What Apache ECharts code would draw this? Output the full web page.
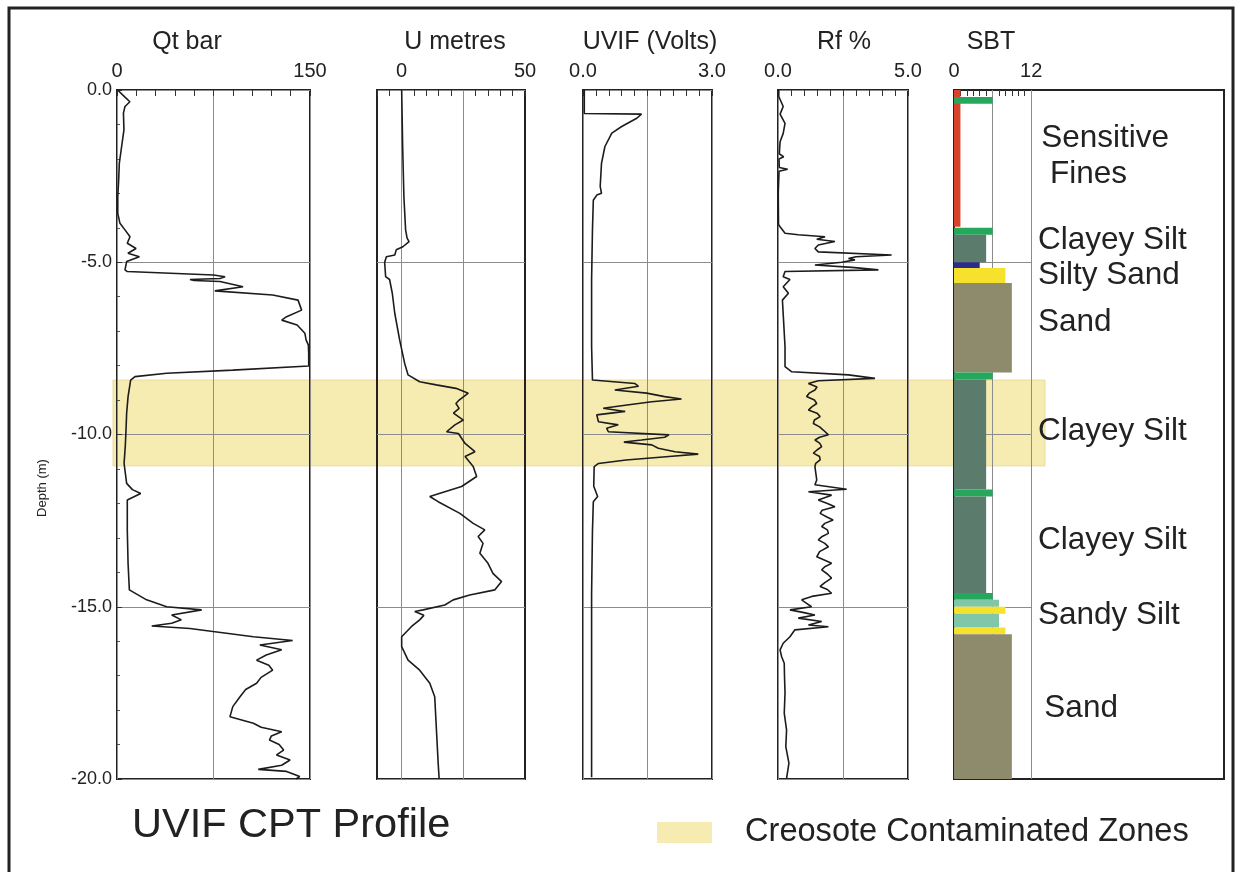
<!DOCTYPE html>
<html><head><meta charset="utf-8">
<script src="https://cdn.jsdelivr.net/npm/echarts@6/dist/echarts.min.js"></script>
<style>html,body{margin:0;padding:0;background:#fff}#c{width:1236px;height:872px}</style>
</head><body><div id="c"></div>
<script>
const FONT = '"Liberation Sans", Arial, sans-serif';
const panelTitles = ['Qt bar', 'U metres', 'UVIF (Volts)', 'Rf %', 'SBT'];

// [depth m, value]
const qtProfile = [[0.0,0.5],[0.05,1],[0.2,6],[0.34,10],[0.48,6.2],[0.67,5],[1.16,5.4],[1.64,3.6],[2.13,1.8],[2.61,1.3],[3.1,0.6],[3.58,0.6],[3.87,2.3],[4.06,6.2],[4.26,10.1],[4.45,8],[4.6,14.8],[4.74,8.5],[4.84,17.4],[4.98,7.5],[5.22,6.2],[5.27,8],[5.37,75],[5.42,84],[5.47,80],[5.5,56.7],[5.53,60],[5.56,80],[5.71,98],[5.83,76],[5.95,121],[6.1,140.7],[6.39,143.5],[6.58,131.8],[6.68,128],[6.82,140],[7.06,146],[7.26,147],[7.4,148.7],[7.65,149],[8.01,149],[8.13,90],[8.22,38.6],[8.32,14],[8.42,10.6],[8.9,8.6],[9.38,7.5],[9.87,7],[10.3,6.5],[10.84,5.5],[11.42,7.5],[11.6,12],[11.71,18.4],[11.9,8],[12.77,8],[13.74,8.6],[14.51,9.6],[14.8,23],[15.0,38.6],[15.09,65.8],[15.24,42.5],[15.38,50],[15.48,42.5],[15.56,27],[15.63,56.7],[15.72,74.6],[15.87,106],[15.98,136.5],[16.11,111],[16.25,128],[16.4,116],[16.55,108.5],[16.7,118],[16.84,121],[17.05,112],[17.22,108.5],[17.4,100],[17.61,95.6],[17.9,90],[18.19,87.8],[18.38,106],[18.5,112],[18.63,128],[18.75,120],[18.87,118.5],[19.0,126],[19.16,129.5],[19.3,124],[19.45,134.5],[19.6,128],[19.72,109.8],[19.78,131.8],[19.93,142],[20.0,139]];
const uProfile = [[0.0,0],[1.64,0.4],[3.1,0.9],[4.06,1.6],[4.3,2.2],[4.4,3.0],[4.55,0.5],[4.64,-2.2],[4.79,-2.8],[4.84,-6.2],[5.0,-6.9],[5.42,-6.5],[5.5,-4.9],[5.9,-3.8],[6.48,-2.8],[7.26,-0.8],[7.93,1.2],[8.27,2.6],[8.47,7.3],[8.56,14],[8.66,22],[8.8,27],[9.0,23.3],[9.1,22],[9.24,23.3],[9.38,21],[9.58,25],[9.72,21.6],[9.92,18.2],[9.97,23],[10.26,25.7],[10.5,29.7],[10.64,25.7],[10.93,29],[11.22,30.4],[11.51,24.3],[11.66,17.5],[11.8,11.4],[11.95,14.8],[12.29,23.6],[12.58,29],[12.77,33.7],[12.96,31],[13.16,33],[13.45,31.7],[13.74,35],[14.03,37],[14.27,40.5],[14.51,37.8],[14.66,27.6],[14.8,20.9],[14.95,17.5],[15.09,8.7],[15.14,5.3],[15.25,9],[15.38,7.3],[15.58,3.9],[15.87,0],[16.16,0],[16.55,2.6],[16.84,7.3],[17.22,11.4],[17.61,13.4],[18.58,14.1],[19.54,14.8],[20.0,15.2]];
const uvifProfile = [[0.0,0.03],[0.68,0.03],[0.7,1.36],[0.82,1.25],[1.06,0.9],[1.25,0.67],[1.64,0.51],[2.13,0.43],[2.8,0.4],[3.0,0.43],[3.05,0.32],[3.2,0.24],[4.06,0.22],[5.5,0.2],[7.45,0.2],[8.42,0.22],[8.52,1.21],[8.6,1.29],[8.71,0.74],[8.8,1.48],[8.9,1.9],[8.97,2.29],[9.05,1.6],[9.15,0.98],[9.24,0.47],[9.33,0.98],[9.43,0.32],[9.63,0.36],[9.72,0.82],[9.82,0.55],[9.92,0.59],[10.01,2.0],[10.08,1.9],[10.16,1.36],[10.22,0.95],[10.3,1.6],[10.4,1.75],[10.5,2.14],[10.57,2.68],[10.64,2.0],[10.74,1.0],[10.84,0.36],[10.93,0.26],[11.5,0.25],[11.8,0.34],[11.95,0.24],[12.8,0.22],[14.6,0.2],[17.0,0.2],[19.95,0.2]];
const rfProfile = [[0.0,0.03],[0.19,0.03],[0.48,0.2],[0.7,0.08],[0.97,0.27],[1.26,0.2],[1.5,0.08],[1.85,0.05],[1.94,0.22],[2.0,0.04],[2.25,0.05],[2.3,0.37],[2.36,0.04],[3.0,0.01],[3.9,0.02],[3.97,0.08],[4.16,0.27],[4.2,0.78],[4.26,1.81],[4.33,1.49],[4.4,2.19],[4.5,1.55],[4.6,1.42],[4.7,1.55],[4.79,4.37],[4.84,3.0],[4.89,2.71],[4.93,2.96],[5.0,2.45],[5.08,1.42],[5.15,2.84],[5.22,3.86],[5.27,0.27],[5.42,0.2],[5.5,0.46],[5.71,0.2],[5.9,0.4],[6.1,0.17],[6.5,0.2],[7.45,0.27],[8.03,0.27],[8.18,0.53],[8.27,2.71],[8.37,3.73],[8.44,1.55],[8.52,1.17],[8.62,1.5],[8.71,1.42],[8.8,1.2],[8.9,1.1],[9.0,1.4],[9.1,1.49],[9.2,1.3],[9.29,1.17],[9.38,1.5],[9.48,1.62],[9.58,1.4],[9.68,1.36],[9.78,1.6],[9.87,1.74],[10.01,1.94],[10.08,1.6],[10.16,1.42],[10.25,1.6],[10.35,1.68],[10.45,1.5],[10.54,1.36],[10.64,1.6],[10.74,1.62],[10.84,1.45],[10.93,1.42],[11.1,1.45],[11.32,1.49],[11.46,1.42],[11.59,2.64],[11.66,1.17],[11.76,2.06],[11.9,1.55],[12.0,1.9],[12.1,2.19],[12.2,1.7],[12.29,1.62],[12.4,1.9],[12.48,2.12],[12.58,1.8],[12.67,1.68],[12.77,1.9],[12.87,1.94],[12.96,1.7],[13.06,1.55],[13.16,1.8],[13.26,1.94],[13.4,1.6],[13.55,1.49],[13.65,1.8],[13.74,2.06],[13.84,1.8],[13.93,1.68],[14.05,1.9],[14.17,2.06],[14.3,1.8],[14.41,1.62],[14.5,1.9],[14.61,2.06],[14.7,1.3],[14.8,0.91],[14.9,1.1],[15.0,1.29],[15.09,0.46],[15.17,1.0],[15.24,1.42],[15.33,0.78],[15.43,1.68],[15.53,1.17],[15.58,1.94],[15.67,0.65],[15.87,0.46],[16.06,0.2],[16.25,0.08],[16.45,0.14],[16.64,0.24],[17.0,0.25],[17.51,0.27],[18.09,0.24],[18.58,0.33],[19.06,0.3],[19.54,0.42],[19.98,0.33]];

// SBT layers: top depth, bottom depth, zone number
const sbtTop    = [0.0, 0.2, 4.0, 4.2, 5.0, 5.17, 5.6, 8.2, 8.4, 11.6, 11.8, 14.6, 14.8, 15.0, 15.2, 15.6, 15.8];
const sbtBottom = [3.97, 0.4, 4.2, 5.0, 5.17, 5.6, 8.2, 8.4, 11.6, 11.8, 14.6, 14.8, 15.0, 15.2, 15.6, 15.8, 20.0];
const sbtZone   = [1, 6, 6, 5, 4, 8, 9, 6, 5, 6, 5, 6, 7, 8, 7, 8, 9];
const sbtNames  = ['Sensitive\n Fines', 'Clayey Silt', 'Silty Sand', 'Sand', 'Clayey Silt', 'Clayey Silt', 'Sandy Silt', 'Sand'];
const sbtNameDepth = [1.92, 4.36, 5.37, 6.75, 9.9, 13.08, 15.25, 17.95];
const sbtNameX     = [13.4, 12.9, 12.9, 12.9, 12.9, 12.9, 12.9, 13.9];
const bandTop = 8.42, bandBottom = 10.91;
const bandName = 'Creosote Contaminated Zones';
const uTicks = [-10, -5, 0, 5, 10, 15, 20, 25, 30, 35, 40, 45, 50];
const uLabels = [0, 50];
const uGrid = [0, 25];
const sbtTicks = [0, 1, 2, 3, 4, 5, 6, 7, 8, 9, 10, 11, 12];
const sbtLabels = [0, 12];
const sbtVGrid = [6, 12];
const sbtHGrid = [5, 10, 15];

// styles / layout
const zoneColor = {1:'#d8432c', 4:'#2b2b88', 5:'#5b7c6d', 6:'#25a85c', 7:'#7fc7a8', 8:'#f6e12c', 9:'#8e8b6d'};
const gridBoxes = [[117,193],[377,148],[583,129],[778,130],[954,270]];
const titleX = [187, 455, 650, 844, 991];
const TOP = 90, H = 689;
const lineCol = '#1c1c1c', gridCol = '#8c8c8c', frameCol = '#222';

const grids = gridBoxes.map(b => ({left:b[0], top:TOP, width:b[1], height:H, show:true, borderColor:frameCol, borderWidth:2, backgroundColor:'transparent'}));
grids.push({left:113, top:TOP, width:932, height:H, show:false});

function yAx(i, labels){
  return {type:'value', gridIndex:i, inverse:true, min:0, max:20, interval:5,
    axisLine:{show:false},
    axisTick:{show:labels, inside:true, length:5, lineStyle:{color:'#333'}},
    minorTick:{show:labels, splitNumber:5, length:3, lineStyle:{color:'#555'}},
    axisLabel:{show:labels, formatter:v => v===0 ? '0.0' : '-' + v.toFixed(1), fontSize:18, color:'#222', margin:5, fontFamily:FONT},
    splitLine:{show:i<4, lineStyle:{color:gridCol, width:1}}};
}
const xLabel = {fontSize:20, color:'#222', margin:9, fontFamily:FONT};
const tick = {inside:true, length:6, lineStyle:{color:'#333'}};
const minor = {show:true, splitNumber:5, length:6, lineStyle:{color:'#333'}};
const split = {show:true, lineStyle:{color:gridCol, width:1}};

const xAxes = [
  {type:'value', gridIndex:0, position:'top', min:0, max:150, interval:75, axisLine:{show:false}, axisTick:tick, minorTick:minor,
    axisLabel:Object.assign({formatter:v => v===75 ? '' : String(v)}, xLabel), splitLine:split},
  {type:'value', gridIndex:1, position:'top', min:-10, max:50, axisLine:{show:false},
    axisTick:Object.assign({customValues:uTicks}, tick), axisLabel:Object.assign({customValues:uLabels}, xLabel), splitLine:{show:false}},
  {type:'value', gridIndex:2, position:'top', min:0, max:3, interval:1.5, axisLine:{show:false}, axisTick:tick, minorTick:minor,
    axisLabel:Object.assign({formatter:v => v===1.5 ? '' : v.toFixed(1)}, xLabel), splitLine:split},
  {type:'value', gridIndex:3, position:'top', min:0, max:5, interval:2.5, axisLine:{show:false}, axisTick:tick, minorTick:minor,
    axisLabel:Object.assign({formatter:v => v===2.5 ? '' : v.toFixed(1)}, xLabel), splitLine:split},
  {type:'value', gridIndex:4, position:'top', min:0, max:42, axisLine:{show:false},
    axisTick:Object.assign({customValues:sbtTicks}, tick), axisLabel:Object.assign({customValues:sbtLabels}, xLabel), splitLine:{show:false}},
  {type:'value', gridIndex:5, min:0, max:1, show:false}
];
const yAxes = [yAx(0,true), yAx(1,false), yAx(2,false), yAx(3,false), yAx(4,false),
  {type:'value', gridIndex:5, inverse:true, min:0, max:20, show:false}];

function curve(i, prof){
  return {type:'line', xAxisIndex:i, yAxisIndex:i, data:prof.map(p => [p[1], p[0]]), showSymbol:false, symbol:'none',
    lineStyle:{color:lineCol, width:1.6}, z:3, silent:true};
}
const mlBase = {silent:true, symbol:'none', label:{show:false}, lineStyle:{color:gridCol, width:1, type:'solid'}, z:1, animation:false};

const series = [
  {type:'line', name:bandName, xAxisIndex:5, yAxisIndex:5, data:[[0,0]], showSymbol:false, lineStyle:{opacity:0}, itemStyle:{color:'#f6ecb2'}, z:-5, silent:true,
    markArea:{silent:true, z:-5, itemStyle:{color:'#f6ecb2', borderColor:'#e8dc98', borderWidth:1}, data:[[{yAxis:bandTop},{yAxis:bandBottom}]]}},
  curve(0, qtProfile),
  Object.assign(curve(1, uProfile), {markLine:Object.assign({data:uGrid.map(v => ({xAxis:v}))}, mlBase)}),
  curve(2, uvifProfile),
  curve(3, rfProfile),
  {type:'line', xAxisIndex:4, yAxisIndex:4, data:[], z:1,
    markLine:Object.assign({data: sbtVGrid.map(v => ({xAxis:v})).concat(sbtHGrid.map(d => [{coord:[0,d]},{coord:[12,d]}]))}, mlBase)},
  {type:'custom', xAxisIndex:4, yAxisIndex:4, z:3, silent:true, encode:{x:2, y:[0,1]},
    data: sbtTop.map((t,i) => ({value:[t, sbtBottom[i], sbtZone[i]], itemStyle:{color:zoneColor[sbtZone[i]]}})),
    renderItem:(params, api) => {
      const p0 = api.coord([0, api.value(0)]);
      const p1 = api.coord([api.value(2), api.value(1)]);
      return {type:'rect', shape:{x:p0[0], y:p0[1], width:p1[0]-p0[0], height:p1[1]-p0[1]}, style:{fill:api.visual('color')}};
    }},
  {type:'scatter', xAxisIndex:4, yAxisIndex:4, symbolSize:2, itemStyle:{color:'rgba(0,0,0,0)'}, silent:true, z:4,
    data: sbtNames.map((n,i) => ({name:n, value:[sbtNameX[i], sbtNameDepth[i]]})),
    label:{show:true, position:'right', distance:0, formatter:'{b}', fontSize:31.5, lineHeight:36, color:'#222', fontFamily:FONT, opacity:1},
    labelLayout:{hideOverlap:false}}
];

const graphic = panelTitles.map((t,i) => ({type:'text', x:titleX[i], y:42, style:{text:t, fontSize:25, fontFamily:FONT, fill:'#222', align:'center', verticalAlign:'middle'}}));
graphic.push({type:'text', x:42, y:488, rotation:Math.PI/2, style:{text:'Depth (m)', fontSize:13, fontFamily:FONT, fill:'#222', align:'center', verticalAlign:'middle'}});
graphic.push({type:'rect', shape:{x:9, y:8, width:1224, height:900}, style:{fill:'none', stroke:'#222', lineWidth:3}, silent:true});

const chart = echarts.init(document.getElementById('c'), null, {renderer:'canvas'});
chart.setOption({
  animation:false,
  backgroundColor:'#fff',
  title:{text:'UVIF CPT Profile', left:127, top:800, textStyle:{fontSize:41.5, fontWeight:'normal', color:'#222', fontFamily:FONT}},
  legend:{left:652, top:811, itemWidth:55, itemHeight:21, icon:'rect', selectedMode:false,
    data:[{name:bandName, itemStyle:{color:'#f6ecb2'}}],
    textStyle:{fontSize:32.6, color:'#222', fontFamily:FONT, padding:[0,0,0,28]}},
  grid:grids, xAxis:xAxes, yAxis:yAxes, series:series, graphic:graphic
});
</script></body></html>
